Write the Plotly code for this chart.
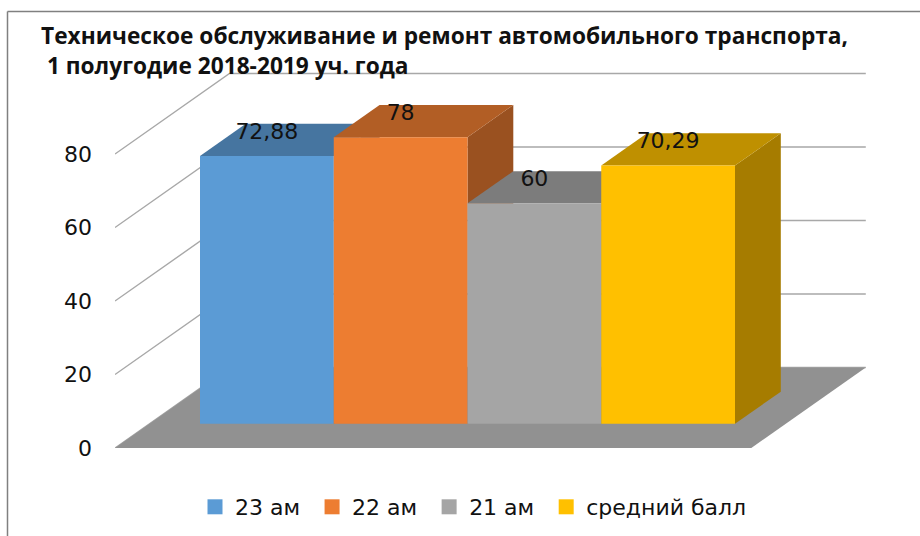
import plotly.graph_objects as go

# --- data ---
title_lines = ["Техническое обслуживание и ремонт автомобильного транспорта,",
               "\u00a01 полугодие 2018-2019 уч. года"]
categories = ["23 ам", "22 ам", "21 ам", "средний балл"]
values = [72.88, 78, 60, 70.29]
value_labels = ["72,88", "78", "60", "70,29"]
y_ticks = [0, 20, 40, 60, 80]

# --- styles ---
front_colors = ["#5B9BD5", "#ED7D31", "#A5A5A5", "#FFC000"]
top_colors = ["#4675A0", "#B25E25", "#7C7C7C", "#BF9000"]
side_colors = ["#3B658B", "#9A5120", "#6B6B6B", "#A67C00"]
FLOOR = "#919191"
GRID = "#A8A8A8"
FONT = "DejaVu Sans"
TEXT = "#111111"

# --- oblique projection: x in bar widths, y in value units ---
L, T, R, B = 115, 60, 866, 448          # plot area, px
PX_PER_BAR = 133.75
PX_PER_VALUE = 3.675
DEPTH_X = 114.5 / PX_PER_BAR
DEPTH_Y = 80.5 / PX_PER_VALUE
GAP = 0.3787
BAR_D0, BAR_D1 = 0.30, 0.70
LABEL_LIFT = 6.2
X0 = -GAP
X1 = len(values) + GAP


def proj(x, v, d):
    return x + d * DEPTH_X, v + d * DEPTH_Y


def poly(points):
    pts = [proj(*p) for p in points] + [proj(*points[0])]
    return [p[0] for p in pts], [p[1] for p in pts]


fig = go.Figure()


def face(points, color):
    xs, ys = poly(points)
    fig.add_trace(go.Scatter(x=xs, y=ys, mode="lines", fill="toself", fillcolor=color,
                             line=dict(color=color, width=0), showlegend=False,
                             hoverinfo="skip"))


# wall gridlines
for t in y_ticks:
    xs, ys = zip(proj(X0, t, 0), proj(X0, t, 1), proj(X1, t, 1))
    fig.add_trace(go.Scatter(x=xs, y=ys, mode="lines", line=dict(color=GRID, width=1.4),
                             showlegend=False, hoverinfo="skip"))

# floor
face([(X0, 0, 0), (X1, 0, 0), (X1, 0, 1), (X0, 0, 1)], FLOOR)

# bars, painted left to right
for i, v in enumerate(values):
    a, b = i, i + 1
    face([(b, 0, BAR_D0), (b, 0, BAR_D1), (b, v, BAR_D1), (b, v, BAR_D0)], side_colors[i])
    face([(a, v, BAR_D0), (b, v, BAR_D0), (b, v, BAR_D1), (a, v, BAR_D1)], top_colors[i])
    face([(a, 0, BAR_D0), (b, 0, BAR_D0), (b, v, BAR_D0), (a, v, BAR_D0)], front_colors[i])

# data labels: centred over the front face, lifted above its top edge
label_pos = [proj(i + 0.5, v + LABEL_LIFT, BAR_D0) for i, v in enumerate(values)]
fig.add_trace(go.Scatter(x=[p[0] for p in label_pos], y=[p[1] for p in label_pos],
                         mode="text", text=value_labels, textposition="middle center",
                         textfont=dict(family=FONT, size=22, color=TEXT),
                         showlegend=False, hoverinfo="skip"))

# legend entries
for name, color in zip(categories, front_colors):
    fig.add_trace(go.Scatter(x=[None], y=[None], mode="markers", name=name + "\u00a0",
                             marker=dict(symbol="square", size=15, color=color)))

paper_x = lambda px: (px - L) / (R - L)
paper_y = lambda px: (B - px) / (B - T)

fig.update_layout(
    width=920, height=536, autosize=False,
    margin=dict(l=L, r=920 - R, t=T, b=536 - B, autoexpand=False),
    paper_bgcolor="white", plot_bgcolor="white",
    title=dict(text="<b>" + "<br>".join(title_lines) + "</b>",
               x=41 / 920, xanchor="left", xref="container",
               y=1 - 44 / 536, yanchor="top", yref="container",
               pad=dict(t=0, l=0, b=0, r=0),
               font=dict(family="Open Sans", size=22.7, color="#111111")),
    xaxis=dict(visible=False, range=[X0, X0 + (R - L) / PX_PER_BAR], fixedrange=True),
    yaxis=dict(range=[0, (B - T) / PX_PER_VALUE], tickmode="array", tickvals=y_ticks,
               showgrid=False, zeroline=False, showline=False, ticks="",
               ticklabelstandoff=22, fixedrange=True,
               tickfont=dict(family=FONT, size=22, color=TEXT)),
    legend=dict(orientation="h", x=paper_x(195), xanchor="left",
                y=paper_y(486), yanchor="top",
                bgcolor="rgba(0,0,0,0)", font=dict(family=FONT, size=22, color=TEXT),
                itemclick=False, itemdoubleclick=False),
    showlegend=True,
    shapes=[
        dict(type="line", xref="paper", yref="paper", x0=paper_x(7.5), x1=paper_x(920),
             y0=paper_y(11.5), y1=paper_y(11.5), line=dict(color="#808080", width=1.5)),
        dict(type="line", xref="paper", yref="paper", x0=paper_x(7.5), x1=paper_x(7.5),
             y0=paper_y(11.5), y1=paper_y(536), line=dict(color="#808080", width=1.5)),
    ],
)

fig.write_html("out.html", config={"displayModeBar": False},
               post_script="document.body.style.margin='0';")
